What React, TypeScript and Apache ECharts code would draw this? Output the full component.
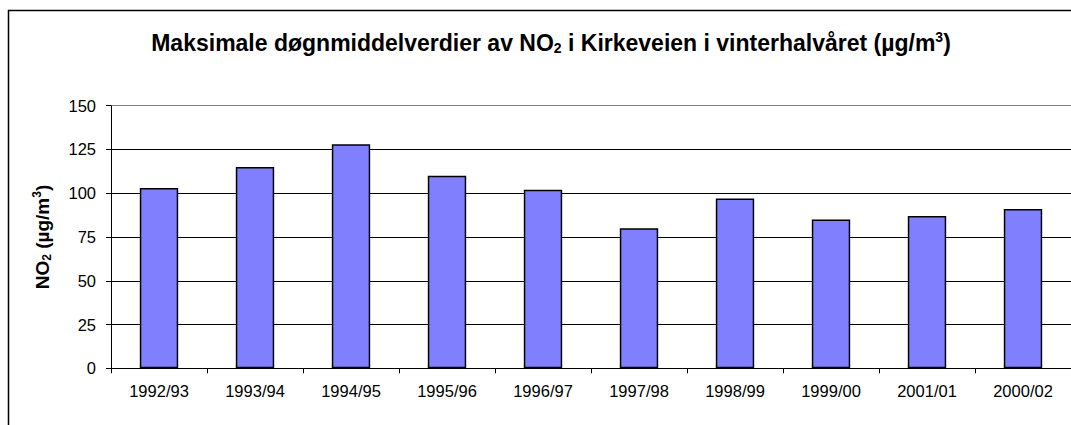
import React, { useEffect, useRef } from "react";
import * as echarts from "echarts";

const categories = ["1992/93", "1993/94", "1994/95", "1995/96", "1996/97", "1997/98", "1998/99", "1999/00", "2001/01", "2000/02"];
const no2Values = [103, 115, 128, 110, 102, 80, 97, 85, 87, 91];
const yTicks = { min: 0, max: 150, interval: 25 };

const FONT = "'Liberation Sans', Arial, sans-serif";

export default function App() {
  const ref = useRef<HTMLDivElement>(null);
  useEffect(() => {
    if (!ref.current) return;
    const chart = echarts.init(ref.current, null, { renderer: "svg" });
    chart.setOption({
      animation: false,
      backgroundColor: "#ffffff",
      title: {
        text: "{m|Maksimale døgnmiddelverdier av NO}{sub|2}{m| i Kirkeveien i vinterhalvåret (µg/m}{sup|3}{m|)}",
        left: 551,
        top: 28,
        padding: 0,
        textAlign: "center",
        textStyle: {
          rich: {
            m: { fontFamily: FONT, fontWeight: "bold", fontSize: 23, color: "#000", lineHeight: 30, verticalAlign: "middle" },
            sub: { fontFamily: FONT, fontWeight: "bold", fontSize: 14, color: "#000", lineHeight: 30, verticalAlign: "bottom", padding: [0, 0, 3, 0] },
            sup: { fontFamily: FONT, fontWeight: "bold", fontSize: 14, color: "#000", lineHeight: 30, verticalAlign: "top", padding: [2, 0, 0, 0] },
          },
        },
      },
      graphic: [
        {
          type: "rect",
          shape: { x: 8.5, y: 10.5, width: 1200, height: 600 },
          style: { fill: "none", stroke: "#000", lineWidth: 1.5 },
          silent: true,
          z: -1,
        },
      ],
      grid: { left: 111, right: -1, top: 105.7, bottom: 56.7, containLabel: false },
      xAxis: {
        type: "category",
        data: categories,
        axisLine: { show: true, lineStyle: { color: "#000", width: 1 } },
        axisTick: { show: true, alignWithLabel: false, length: 5, lineStyle: { color: "#000" } },
        axisLabel: { fontFamily: FONT, fontSize: 16.5, color: "#000", margin: 14, interval: 0 },
        splitLine: { show: false },
      },
      yAxis: {
        type: "value",
        min: yTicks.min,
        max: yTicks.max,
        interval: yTicks.interval,
        name: "{m|NO}{sub|2}{m| (µg/m}{sup|3}{m|)}",
        nameLocation: "middle",
        nameRotate: 90,
        nameGap: 56,
        nameTextStyle: {
          rich: {
            m: { fontFamily: FONT, fontWeight: "bold", fontSize: 19, color: "#000", lineHeight: 26, verticalAlign: "middle" },
            sub: { fontFamily: FONT, fontWeight: "bold", fontSize: 12, color: "#000", lineHeight: 26, verticalAlign: "bottom", padding: [0, 0, 2, 0] },
            sup: { fontFamily: FONT, fontWeight: "bold", fontSize: 12, color: "#000", lineHeight: 26, verticalAlign: "top", padding: [2, 0, 0, 0] },
          },
        },
        axisLine: { show: true, lineStyle: { color: "#000", width: 1 } },
        axisTick: { show: true, length: 5, lineStyle: { color: "#000" } },
        axisLabel: { fontFamily: FONT, fontSize: 16.5, color: "#000", margin: 15 },
        splitLine: {
          show: true,
          lineStyle: { color: ["#000", "#000", "#000", "#000", "#000", "#000", "#808080"], width: 1 },
        },
      },
      series: [
        {
          type: "bar",
          data: no2Values,
          barWidth: "40%",
          itemStyle: { color: "#8080FF", borderColor: "#000", borderWidth: 1.5 },
        },
      ],
    });
    return () => chart.dispose();
  }, []);
  return <div ref={ref} style={{ position: "fixed", left: 0, top: 0, width: 1071, height: 425 }} />;
}
